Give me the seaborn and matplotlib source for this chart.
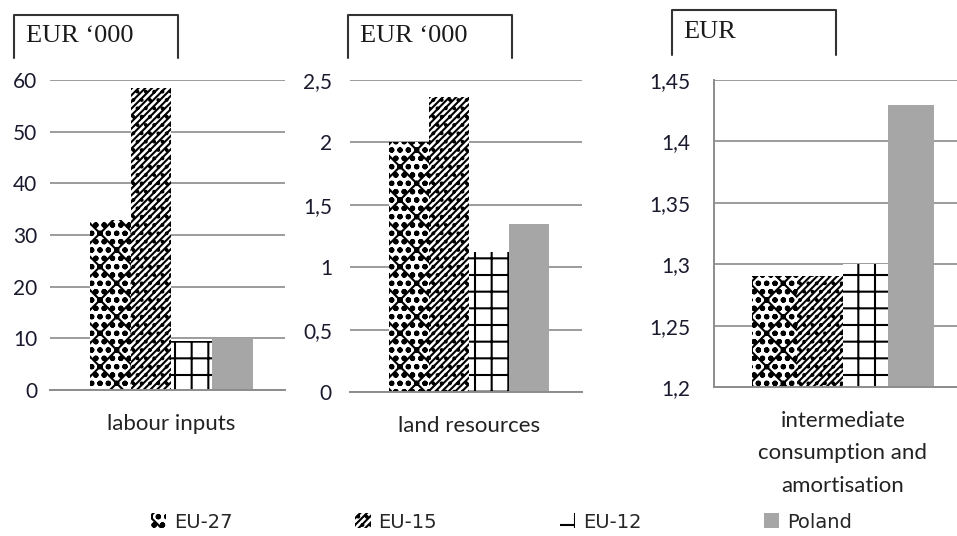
import pandas as pd
import numpy as np
import seaborn as sns
import matplotlib.pyplot as plt
from matplotlib.lines import Line2D

# data
regions = ["EU-27", "EU-15", "EU-12", "Poland"]
labour = [33, 58.5, 9.5, 10]
land = [2.0, 2.36, 1.12, 1.35]
interm = [1.29, 1.29, 1.30, 1.43]
cat_labels = ["labour inputs", "land resources",
              "intermediate\nconsumption and\namortisation"]
units = ["EUR \u2018000", "EUR \u2018000", "EUR"]
yticks1 = [0, 10, 20, 30, 40, 50, 60]
yticks2 = [0, 0.5, 1, 1.5, 2, 2.5]
yticks3 = [1.2, 1.25, 1.3, 1.35, 1.4, 1.45]

sns.set_style("white")
plt.rcParams['font.family'] = ['Lato', 'DejaVu Sans']
plt.rcParams['hatch.linewidth'] = 1.5

hatches = ["xoo..", "/////..", "+", ""]
colors = ["white", "white", "white", "#a6a6a6"]

fig = plt.figure(figsize=(9.57, 5.36), dpi=100)
W, H = 957.0, 536.0

def fx(px):
    return px / W

def fy(py):
    return 1 - py / H

# panels: (left, top, right, bottom) in pixels
boxes = [(50, 80, 285, 390), (350, 80, 582, 392), (714, 80, 957, 387)]
values = [labour, land, interm]
ticks = [yticks1, yticks2, yticks3]
widths = [0.69, 0.69, 0.75]
xlims = [(-0.517, 0.483), (-0.513, 0.487), (-0.53, 0.47)]
axes = []
for i in range(3):
    l, t, r, b = boxes[i]
    ax = fig.add_axes([fx(l), fy(b), fx(r - l), (b - t) / H])
    df = pd.DataFrame({"cat": [cat_labels[i]] * 4, "region": regions,
                       "value": values[i]})
    sns.barplot(data=df, x="cat", y="value", hue="region", ax=ax,
                width=widths[i], legend=False, saturation=1,
                palette=dict(zip(regions, colors)))
    for cont, h, c in zip(ax.containers, hatches, colors):
        for p in cont:
            p.set_hatch(h)
            p.set_facecolor(c)
            p.set_edgecolor("black")
            p.set_linewidth(0)
    ax.set_xlim(*xlims[i])
    yt = ticks[i]
    ax.set_ylim(yt[0], yt[-1])
    ax.set_yticks(yt)
    ax.set_yticklabels([("%g" % v).replace(".", ",") for v in yt],
                       fontsize=15, color="#1a1a2e")
    ax.yaxis.grid(True, color="#949494", linewidth=1.3)
    ax.set_axisbelow(True)
    ax.set_xticks([0])
    ax.set_xticklabels([cat_labels[i]], fontsize=16, color="#222222",
                       linespacing=1.8, va="top")
    ax.tick_params(axis="x", length=0, pad=17)
    ax.set_xlabel("")
    ax.set_ylabel("")
    for s in ["top", "right", "left"]:
        ax.spines[s].set_visible(False)
    ax.spines["bottom"].set_color("#8c8c8c")
    ax.spines["bottom"].set_linewidth(1.4)
    if i < 2:
        ax.tick_params(axis="y", length=0, pad=9 if i == 0 else 13)
        ax.set_xticks([xlims[i][1]], minor=True)
    else:
        ax.spines["left"].set_visible(True)
        ax.spines["left"].set_color("#8c8c8c")
        ax.spines["left"].set_linewidth(1.4)
        ax.tick_params(axis="y", length=6, width=1.3, color="#8c8c8c", pad=11)
        ax.set_xticks([xlims[i][0]], minor=True)
    ax.tick_params(axis="x", which="minor", length=7, width=1.3,
                   color="#8c8c8c", direction="out")
    axes.append(ax)

# unit boxes above each panel (open at the bottom)
unit_boxes = [(14, 15, 178, 58, 26), (348, 15, 512, 58, 360),
              (672, 10, 836, 55, 683)]
for (x0, y0, x1, y1, tx), u in zip(unit_boxes, units):
    fig.add_artist(Line2D([fx(x0), fx(x0), fx(x1), fx(x1)],
                          [fy(y1), fy(y0), fy(y0), fy(y1)],
                          color="#333333", linewidth=1.5))
    fig.text(fx(tx), fy((y0 + y1) / 2 - 1), u, fontsize=19,
             family="Liberation Serif", va="center", ha="left",
             color="#1a1a1a")

fig.legend(axes[0].containers, regions, loc="center",
           bbox_to_anchor=(0.524, fy(522)), ncol=4, frameon=False,
           prop={"family": "DejaVu Sans", "size": 14},
           columnspacing=6.3, handlelength=0.8,
           handleheight=0.8, handletextpad=0.4)

fig.savefig("out.png", dpi=100)
